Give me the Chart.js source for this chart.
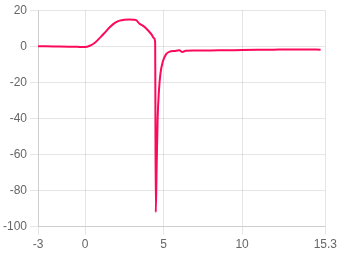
<!DOCTYPE html>
<html>
<head>
<meta charset="utf-8">
<script src="https://cdn.jsdelivr.net/npm/chart.js@4.4.0/dist/chart.umd.min.js"></script>
<style>
  html, body { margin: 0; padding: 0; background: #fff; }
  #wrap { width: 340px; height: 255px; }
</style>
</head>
<body>
<div id="wrap"><canvas id="chart"></canvas></div>
<script>
"use strict";

// values
var xValues = [-3, -2, -1, -0.5, 0, 0.3, 0.6, 1.0, 1.3, 1.6, 1.9, 2.2, 2.5, 2.8, 3.1, 3.25, 3.45, 3.7, 4.0, 4.25, 4.38, 4.46,
    4.5, 4.55, 4.62, 4.7, 4.8, 4.95, 5.15, 5.4, 5.7, 6.0, 6.2, 6.4, 7, 8, 9, 10, 11, 12, 13, 14, 15];
var yValues = [0, -0.1, -0.2, -0.3, -0.4, 0.3, 1.8, 5.2, 8, 10.8, 13, 14.2, 14.7, 14.8, 14.7, 14.5, 12.6, 11.3, 8.9, 6.3, 4.6, 2.4,
    -92, -70, -40, -25, -15, -8.5, -4.5, -3, -2.6, -2.2, -3.2, -2.5, -2.4, -2.3, -2.2, -2.1, -2.0, -1.9, -1.8, -1.8, -1.9];
var xTicks = [-3, 0, 5, 10, 15.3];
var yTicks = [-100, -80, -60, -40, -20, 0, 20];

var points = [];
for (var i = 0; i < xValues.length; i++) {
    points.push({ x: xValues[i], y: yValues[i] });
}

Chart.defaults.font.family = "'Liberation Sans', Arial, sans-serif";
Chart.defaults.font.size = 12;
Chart.defaults.color = '#666';

const context = document.getElementById('chart');
const myChart = new Chart(context, {
    type: 'line',
    data: {
        datasets: [{
            data: points,
            borderColor: '#fc0a5a',
            backgroundColor: '#fc0a5a',
            borderWidth: 2,
            pointRadius: 0,
            cubicInterpolationMode: 'monotone',
            fill: false
        }]
    },
    options: {
        responsive: true,
        maintainAspectRatio: false,
        animation: false,
        plugins: {
            legend: { display: false },
            tooltip: { enabled: false }
        },
        scales: {
            x: {
                type: 'linear',
                min: -3,
                max: 15.3,
                afterBuildTicks: function (axis) {
                    axis.ticks = xTicks.map(function (v) { return { value: v }; });
                },
                ticks: { maxRotation: 0 }
            },
            y: {
                min: -100,
                max: 20,
                afterBuildTicks: function (axis) {
                    axis.ticks = yTicks.map(function (v) { return { value: v }; });
                }
            }
        }
    }
});
</script>
</body>
</html>
